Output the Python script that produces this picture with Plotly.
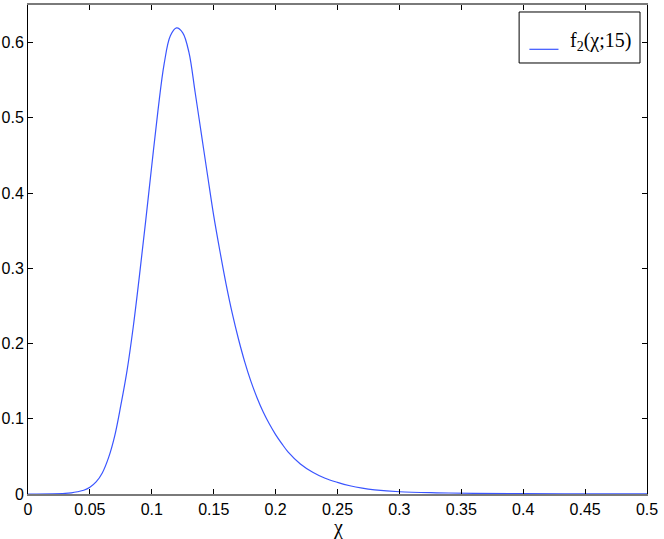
import plotly.graph_objects as go

chi = [0, 0.02, 0.03, 0.035, 0.04, 0.045, 0.05, 0.055, 0.06, 0.065, 0.07, 0.075,
       0.08, 0.085, 0.09, 0.095, 0.1, 0.105, 0.11, 0.115, 0.12, 0.125, 0.13,
       0.135, 0.14, 0.145, 0.15, 0.155, 0.16, 0.165, 0.17, 0.175, 0.18, 0.185,
       0.19, 0.195, 0.2, 0.205, 0.21, 0.22, 0.23, 0.24, 0.25, 0.26, 0.27, 0.28,
       0.3, 0.33, 0.36, 0.4, 0.45, 0.5]
f2 = [0, 0.0002, 0.0008, 0.0016, 0.003, 0.005, 0.009, 0.016, 0.028, 0.048,
      0.077, 0.118, 0.164, 0.222, 0.290, 0.362, 0.437, 0.510, 0.572, 0.609,
      0.6195, 0.613, 0.587, 0.534, 0.479, 0.424, 0.370, 0.323, 0.279, 0.240,
      0.206, 0.176, 0.150, 0.128, 0.109, 0.093, 0.079, 0.067, 0.056, 0.040,
      0.029, 0.021, 0.0155, 0.011, 0.0078, 0.0056, 0.003, 0.0016, 0.0009,
      0.0005, 0.0002, 0.0001]

x_ticks = [0, 0.05, 0.1, 0.15, 0.2, 0.25, 0.3, 0.35, 0.4, 0.45, 0.5]
x_tick_labels = ["0", "0.05", "0.1", "0.15", "0.2", "0.25", "0.3", "0.35", "0.4", "0.45", "0.5"]
y_ticks = [0, 0.1, 0.2, 0.3, 0.4, 0.5, 0.6]
y_tick_labels = ["0", "0.1", "0.2", "0.3", "0.4", "0.5", "0.6"]

series_name = "f<sub>2</sub>(χ;15)"
x_title = "χ"
line_color = "#3a55ff"

SANS = "Liberation Sans, Arial, Helvetica, sans-serif"
SERIF = "Liberation Serif, Times New Roman, serif"

fig = go.Figure()
fig.add_trace(go.Scatter(
    x=chi, y=f2, mode="lines", name=series_name, showlegend=False,
    line=dict(color=line_color, width=1.2, shape="spline", smoothing=1.0),
))

axis_common = dict(
    showline=True, mirror="ticks", automargin=False,
    ticks="inside", ticklen=5, tickcolor="black", tickwidth=1,
    showgrid=False, zeroline=False,
    tickfont=dict(family=SANS, size=16, color="black"),
)

# legend box drawn in plot-area (paper) coordinates
leg_x0, leg_x1, leg_y0, leg_y1 = 0.7934, 0.9887, 0.8814, 0.9857
fig.add_shape(type="rect", xref="paper", yref="paper",
              x0=leg_x0, x1=leg_x1, y0=leg_y0, y1=leg_y1,
              line=dict(color="black", width=1), fillcolor="white", layer="above")
fig.add_shape(type="line", xref="paper", yref="paper",
              x0=0.810, x1=0.857, y0=0.9094, y1=0.9094,
              line=dict(color=line_color, width=1.2), layer="above")
fig.add_annotation(xref="paper", yref="paper", x=0.8725, y=0.925,
                   xanchor="left", yanchor="middle", showarrow=False,
                   text=series_name, font=dict(family=SERIF, size=20, color="black"))
fig.add_annotation(xref="paper", yref="paper", x=0.5, y=-0.068,
                   xanchor="center", yanchor="middle", showarrow=False,
                   text=x_title, font=dict(family=SERIF, size=20, color="black"))

fig.update_layout(
    width=664, height=539,
    margin=dict(l=27.5, r=17, t=5, b=45),
    paper_bgcolor="white", plot_bgcolor="white",
    xaxis=dict(range=[0, 0.5], tickvals=x_ticks, ticktext=x_tick_labels,
               linecolor="#7a7a7a", linewidth=2, **axis_common),
    yaxis=dict(range=[0, 0.65], tickvals=y_ticks, ticktext=y_tick_labels,
               linecolor="black", linewidth=1, **axis_common),
    showlegend=False,
)

fig.write_html("out.html", config={"displayModeBar": False},
               post_script="document.body.style.margin='0';")
